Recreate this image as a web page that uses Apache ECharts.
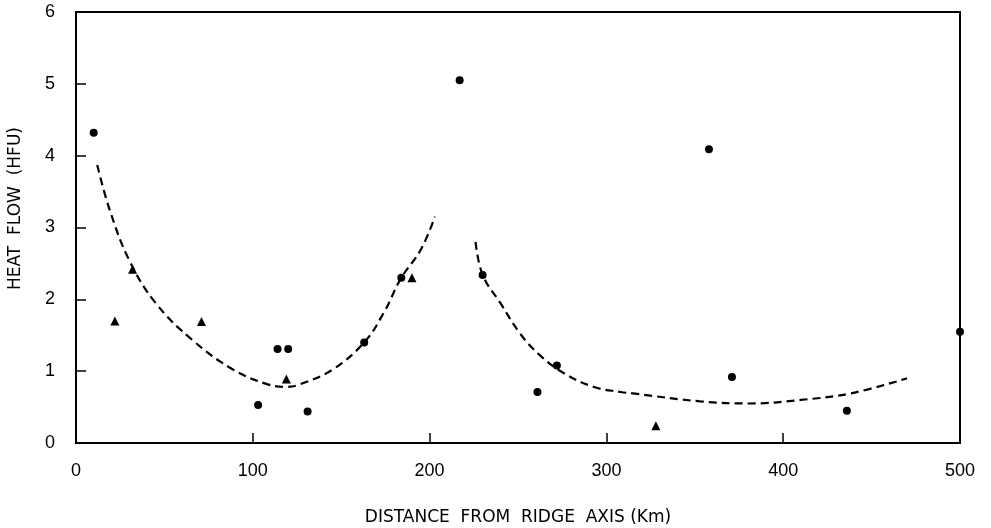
<!DOCTYPE html>
<html>
<head>
<meta charset="utf-8">
<script type="text/javascript" src="https://cdn.jsdelivr.net/npm/echarts@6/dist/echarts.min.js"></script>
<style>
  html, body { margin: 0; padding: 0; background: #fff; }
  #main { width: 991px; height: 528px; }
</style>
</head>
<body>
<div id="main"></div>
<script type="text/javascript">
// heat flow measurements, circles
const circleX = [10, 103, 114, 120, 131, 163, 184, 217, 230, 261, 272, 358, 371, 436, 500]
const circleY = [4.32, 0.53, 1.31, 1.31, 0.44, 1.40, 2.30, 5.05, 2.34, 0.71, 1.08, 4.09, 0.92, 0.45, 1.55]
// heat flow measurements, triangles
const triX = [22, 32, 71, 119, 190, 328]
const triY = [1.70, 2.42, 1.69, 0.89, 2.30, 0.24]
// dashed curve, left of the ridge
const curve1X = [12, 19, 30, 45, 66, 89, 108, 119, 127, 145, 163, 174, 184, 195, 203]
const curve1Y = [3.87, 3.25, 2.55, 1.95, 1.43, 1.02, 0.82, 0.78, 0.82, 1.02, 1.40, 1.81, 2.30, 2.69, 3.15]
// dashed curve, right of the ridge
const curve2X = [226, 230, 240, 251, 262, 276, 293, 308, 315, 353, 381, 410, 438, 470]
const curve2Y = [2.80, 2.34, 1.95, 1.53, 1.23, 0.97, 0.78, 0.71, 0.69, 0.58, 0.55, 0.60, 0.69, 0.90]

// pair two arrays into [x, y] points
function pairs(xs, ys) {
    return xs.map((x, i) => [x, ys[i]])
}

const font = 'Liberation Sans'
const nameFont = 'DejaVu Sans'
const ink = '#000'

const dashed = {
    type: 'line',
    smooth: 0.4,
    symbol: 'none',
    lineStyle: { color: ink, width: 2.2, type: [8, 5] },
    z: 2
}

const cs = echarts.init(document.getElementById('main'))
const option = {
    backgroundColor: '#fff',
    animation: false,
    grid: {
        left: 76, right: 31, top: 12, bottom: 85,
        outerBoundsMode: 'none', containLabel: false,
        show: true, borderColor: ink, borderWidth: 2
    },
    xAxis: {
        type: 'value', min: 0, max: 500, interval: 100,
        name: 'DISTANCE  FROM  RIDGE  AXIS (Km)',
        nameLocation: 'middle', nameGap: 66,
        nameTextStyle: { fontFamily: nameFont, fontSize: 17, color: ink },
        axisLine: { show: true, lineStyle: { color: ink, width: 2 } },
        axisTick: { show: true, inside: true, length: 10, lineStyle: { color: ink, width: 1.5 } },
        axisLabel: { fontFamily: font, fontSize: 18, color: ink, margin: 19 },
        splitLine: { show: false }
    },
    yAxis: {
        type: 'value', min: 0, max: 6, interval: 1,
        name: 'HEAT  FLOW  (HFU)',
        nameLocation: 'middle', nameGap: 52, nameRotate: 90,
        nameTextStyle: { fontFamily: nameFont, fontSize: 17, color: ink, padding: [0, 0, 0, 38] },
        axisLine: { show: true, lineStyle: { color: ink, width: 2 } },
        axisTick: { show: true, inside: true, length: 10, lineStyle: { color: ink, width: 1.5 } },
        axisLabel: { fontFamily: font, fontSize: 18, color: ink, margin: 21 },
        splitLine: { show: false }
    },
    series: [
        Object.assign({ data: pairs(curve1X, curve1Y) }, dashed),
        Object.assign({ data: pairs(curve2X, curve2Y) }, dashed),
        {
            type: 'scatter',
            data: pairs(circleX, circleY),
            symbol: 'circle', symbolSize: 8,
            itemStyle: { color: ink, opacity: 1 },
            z: 3
        },
        {
            type: 'scatter',
            data: pairs(triX, triY),
            symbol: 'triangle', symbolSize: 9,
            itemStyle: { color: ink, opacity: 1 },
            z: 3
        }
    ]
}
cs.setOption(option)
</script>
</body>
</html>
